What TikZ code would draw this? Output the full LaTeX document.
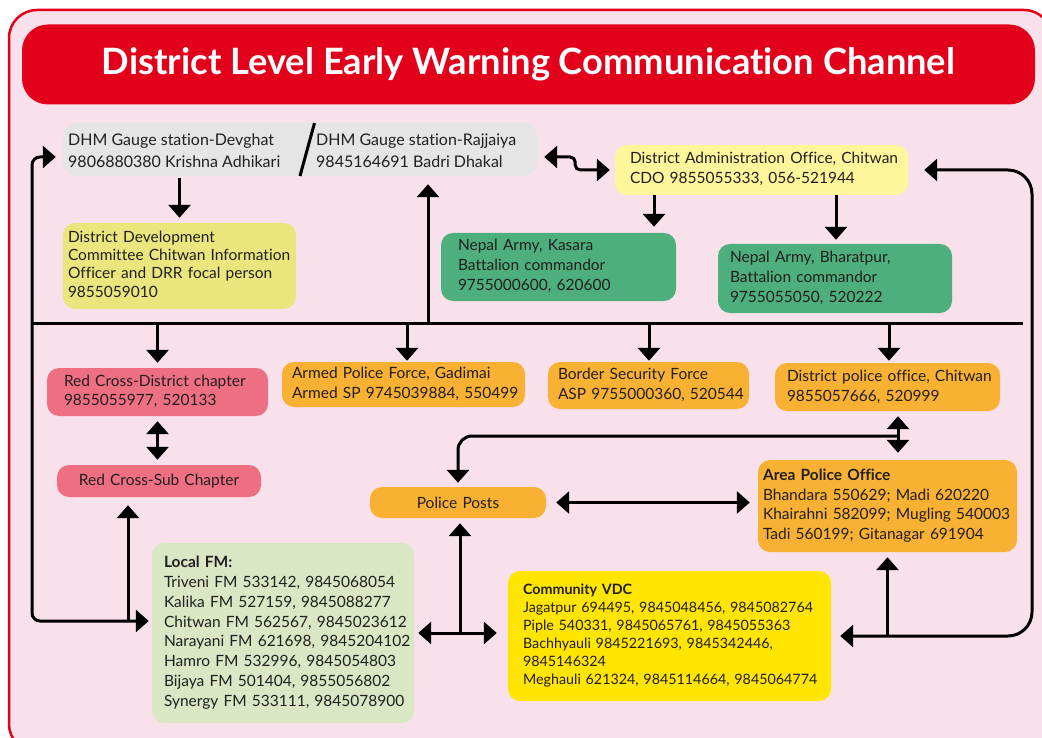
\documentclass[tikz,border=0pt]{standalone}
\usepackage{fontspec}
\setmainfont{Lato}[Ligatures=NoCommon]
\usetikzlibrary{arrows.meta}
\definecolor{bgpink}{RGB}{249,225,235}
\definecolor{frred}{RGB}{226,0,26}
\definecolor{cgray}{RGB}{229,229,229}
\definecolor{cddc}{RGB}{234,230,125}
\definecolor{cdao}{RGB}{255,245,155}
\definecolor{cgreen}{RGB}{77,175,124}
\definecolor{crc}{RGB}{238,111,130}
\definecolor{corange}{RGB}{248,177,51}
\definecolor{cfm}{RGB}{217,231,196}
\definecolor{cvdc}{RGB}{255,229,0}
\definecolor{ctext}{RGB}{35,31,32}
\newcommand\boxlines[1]{\begin{tabular}{@{}l@{}}#1\end{tabular}}
\begin{document}
\begin{tikzpicture}[x=1pt,y=-1pt,
  box/.style={rounded corners=12pt, inner ysep=0pt, align=left, text=ctext, font=\fontsize{15.5}{20}\selectfont},
  ln/.style={line width=3pt, draw=black},
  arr/.style={ln, -{Triangle[width=22pt,length=13pt]}},
  darr/.style={ln, {Triangle[width=22pt,length=13pt]}-{Triangle[width=22pt,length=13pt]}}]
\useasboundingbox (0,0) rectangle (1042,738);
\clip (0,0) rectangle (1042,738);
\fill[white] (0,0) rectangle (1042,738);
\draw[frred, line width=2.5pt, fill=bgpink, rounded corners=28pt] (9,10) rectangle (1052,752);
\node[fill=frred, rounded corners=26pt, minimum width=1013pt, minimum height=80pt, text=white, font=\fontsize{36.3}{42}\selectfont\bfseries] (title) at (528.5,64.5) {District Level Early Warning Communication Channel};

% gauge stations
\node[box, fill=cgray, minimum width=474pt, minimum height=53pt, rounded corners=14pt] (gauge) at (300,149.5) {};
\node[anchor=west, inner sep=0pt, text=ctext, font=\fontsize{16}{21.7}\selectfont] (gaugeL) at (68,152) {\boxlines{DHM Gauge station-Devghat\\9806880380 Krishna Adhikari}};
\node[anchor=west, inner sep=0pt, text=ctext, font=\fontsize{16}{21.7}\selectfont] (gaugeR) at (316,152) {\boxlines{DHM Gauge station-Rajjaiya\\9845164691 Badri Dhakal}};
\draw[line width=3pt] (314.5,123) -- (300,176);

\node[box, fill=cddc, minimum width=233pt, text width=223pt, inner xsep=5pt, minimum height=86pt, font=\fontsize{15.5}{18.3}\selectfont] (ddc) at (179.5,266) {\boxlines{District Development\\Committee Chitwan Information\\Officer and DRR focal person\\9855059010}};
\node[box, fill=cdao, minimum width=293pt, text width=263pt, inner xsep=15pt, minimum height=50pt] (dao) at (761.5,170) {\boxlines{District Administration Office, Chitwan\\CDO 9855055333, 056-521944}};
\node[box, fill=cgreen, minimum width=235pt, text width=201pt, inner xsep=17pt, minimum height=68pt] (kasara) at (558.5,267) {\boxlines{Nepal Army, Kasara\\Battalion commandor\\9755000600, 620600}};
\node[box, fill=cgreen, minimum width=234pt, text width=210pt, inner xsep=12pt, minimum height=69pt] (bharat) at (835,278.5) {\boxlines{Nepal Army, Bharatpur,\\Battalion commandor\\9755055050, 520222}};

\node[box, fill=crc, minimum width=221pt, text width=187pt, inner xsep=17pt, minimum height=48pt, font=\fontsize{15.5}{19}\selectfont] (rcd) at (157.5,392) {\boxlines{Red Cross-District chapter\\9855055977, 520133}};
\node[box, fill=crc, minimum width=204pt, text width=194pt, inner xsep=5pt, minimum height=32pt, align=center] (rcs) at (159,481) {Red Cross-Sub Chapter};
\node[box, fill=corange, minimum width=243pt, text width=223pt, inner xsep=10pt, minimum height=45pt] (apf) at (403.5,384.5) {\boxlines{Armed Police Force, Gadimai\\Armed SP 9745039884, 550499}};
\node[box, fill=corange, minimum width=201pt, text width=181pt, inner xsep=10pt, minimum height=47pt] (bsf) at (648.5,385.5) {\boxlines{Border Security Force\\ASP 9755000360, 520544}};
\node[box, fill=corange, minimum width=225pt, text width=201pt, inner xsep=12pt, minimum height=48pt] (dpo) at (887.5,387) {\boxlines{District police office, Chitwan\\9855057666, 520999}};
\node[box, fill=corange, minimum width=176pt, text width=166pt, inner xsep=5pt, minimum height=31pt, align=center] (pp) at (458,502.5) {Police Posts};
\node[box, fill=corange, minimum width=259pt, text width=249pt, inner xsep=5pt, minimum height=92pt, font=\fontsize{15.5}{19.7}\selectfont] (apo) at (887.5,506) {\boxlines{\textbf{Area Police Office}\\Bhandara 550629; Madi 620220\\Khairahni 582099; Mugling 540003\\Tadi 560199; Gitanagar 691904}};
\node[box, fill=cfm, minimum width=262pt, text width=238pt, inner xsep=12pt, minimum height=180pt, font=\fontsize{15.5}{19.8}\selectfont] (localfm) at (283,633) {\boxlines{\textbf{Local FM:}\\Triveni FM 533142, 9845068054\\Kalika FM 527159, 9845088277\\Chitwan FM 562567, 9845023612\\Narayani FM 621698, 9845204102\\Hamro FM 532996, 9845054803\\Bijaya FM 501404, 9855056802\\Synergy FM 533111, 9845078900}};
\node[box, fill=cvdc, minimum width=323pt, text width=293pt, inner xsep=15pt, minimum height=130pt, font=\fontsize{14.3}{18}\selectfont] (vdc) at (669.5,636) {\boxlines{\textbf{Community VDC}\\Jagatpur 694495, 9845048456, 9845082764\\Piple 540331, 9845065761, 9845055363\\Bachhyauli 9845221693, 9845342446,\\9845146324\\Meghauli 621324, 9845114664, 9845064774}};

% junction coordinates
\coordinate (busL) at (32,323);
\coordinate (busR) at (1023,323);
\coordinate (tapG) at (428,323);
\coordinate (tapRC) at (157.5,323);
\coordinate (tapAP) at (407,323);
\coordinate (tapBS) at (649,323);
\coordinate (tapDP) at (889,323);
\coordinate (leftX) at (32,400);
\coordinate (rightX) at (1032,400);
\coordinate (kx) at (654,0);
\coordinate (bx) at (836,0);
\coordinate (dx) at (898,0);
\coordinate (jn) at (898,436);
\coordinate (rcsx) at (128,621);
\coordinate (ppx) at (460,633);

\draw[ln] (busL) -- (busR);
\draw[arr, shorten >=8pt] (tapG) -- (tapG |- gauge.south);
\draw[arr, shorten >=5pt] (tapRC) -- (tapRC |- rcd.north);
\draw[arr, shorten >=1pt] (tapAP) -- (tapAP |- apf.north);
\draw[arr, shorten >=1pt] (tapBS) -- (tapBS |- bsf.north);
\draw[arr, shorten >=2pt] (tapDP) -- (tapDP |- dpo.north);
\draw[arr, shorten <=2pt, shorten >=5pt] (ddc.north |- gauge.south) -- (ddc.north);
\draw[arr, shorten >=6pt] (kx |- dao.south) -- (kx |- kasara.north);
\draw[arr, shorten >=4pt] (bx |- dao.south) -- (bx |- bharat.north);
\draw[darr, rounded corners=5pt, shorten <=7pt, shorten >=5pt] ([yshift=-7.5pt]gauge.east) -- ++(38,0) |- (dao.west);
\draw[darr, rounded corners=24pt, shorten <=16pt, shorten >=9pt] (dao.east) -| (rightX) |- (vdc.east);
\draw[arr, shorten >=5pt] (apo.south |- vdc.east) -- (apo.south);
\draw[darr, rounded corners=8pt, shorten <=7pt, shorten >=3pt] ([yshift=-7.5pt]gauge.west) -| (leftX) |- ([yshift=12pt]localfm.west);
\draw[arr, shorten >=8pt] (rcsx) -- (rcsx |- rcs.south);
\draw[darr, shorten <=5pt, shorten >=5pt] (rcd.south) -- (rcd.south |- rcs.north);
\draw[darr, shorten <=10pt, shorten >=8pt] (pp.east) -- (pp.east -| apo.west);
\draw[darr, shorten <=5pt, shorten >=7pt] (dx |- dpo.south) -- (dx |- apo.north);
\draw[arr, rounded corners=14pt, shorten >=4pt] (jn) -| (pp.north);
\draw[darr, shorten <=4pt, shorten >=11pt] (localfm.east) -- (localfm.east -| vdc.west);
\draw[arr, shorten >=5pt] (ppx) -- (ppx |- pp.south);
\end{tikzpicture}
\end{document}
